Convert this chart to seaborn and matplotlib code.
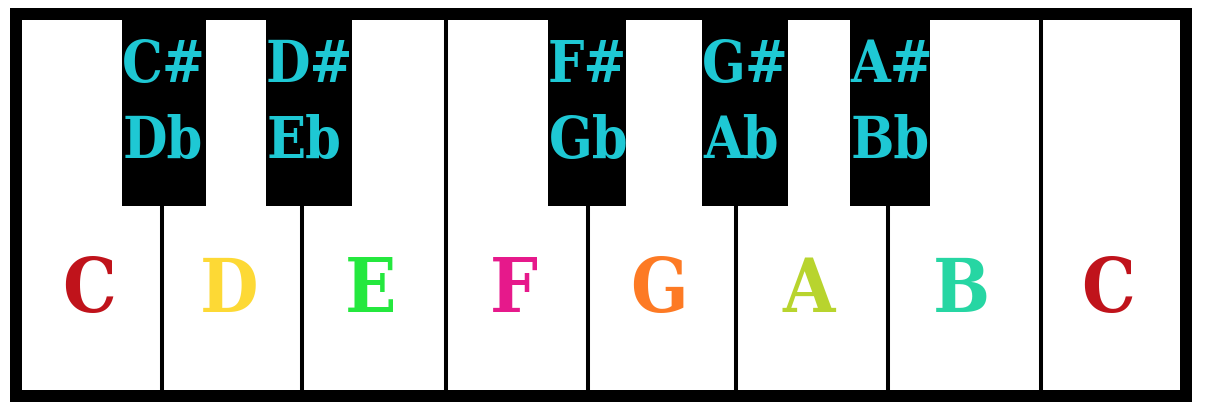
import matplotlib
matplotlib.use("Agg")
import matplotlib.pyplot as plt
import seaborn as sns

# ── Data ──────────────────────────────────────────────────
white_names  = ["C", "D", "E", "F", "G", "A", "B", "C"]
white_colors = ["#c0131b", "#fdd935", "#24e83e", "#e6198b",
                "#fd7a24", "#b8d42e", "#26d6a3", "#c0131b"]
white_edges  = [22, 162, 302, 446, 588, 736, 888, 1041, 1180]

black_top    = ["C#", "D#", "F#", "G#", "A#"]
black_bottom = ["Db", "Eb", "Gb", "Ab", "Bb"]
black_left   = [122, 266, 548, 702, 850]
black_right  = [206, 352, 626, 788, 930]

LABEL_CYAN = "#1ec8d4"
FONT = "DejaVu Serif"

# ── Styling ───────────────────────────────────────────────
sns.set_theme(style="white")
plt.rcParams["font.family"] = [FONT, "DejaVu Sans"]

W, H = 1208, 416
fig = plt.figure(figsize=(W / 100, H / 100), dpi=100)
fig.patch.set_facecolor("white")
ax = fig.add_axes([0, 0, 1, 1])
ax.set_xlim(0, W)
ax.set_ylim(H, 0)
ax.axis("off")

top, bottom = 20, 390
txt = dict(fontstretch="condensed", fontweight="bold", zorder=4)

# outer frame
ax.bar(10, 394, width=1182, bottom=8, align="edge", color="black", linewidth=0)

# white keys
lefts  = white_edges[:-1]
widths = [r - l for l, r in zip(white_edges[:-1], white_edges[1:])]
ax.bar(lefts, bottom - top, width=widths, bottom=top, align="edge",
       color="white", linewidth=0)
ax.vlines(white_edges[1:-1], top, bottom, color="black", lw=2.9)

# black keys
bw = [r - l for l, r in zip(black_left, black_right)]
ax.bar(black_left, 186, width=bw, bottom=top, align="edge",
       color="black", linewidth=0, zorder=3)

# labels
for l, w, name, c in zip(lefts, widths, white_names, white_colors):
    ax.text(l + w / 2 - 3, 312, name, ha="center", va="baseline",
            fontsize=54, color=c, **txt)

for l, t, b in zip(black_left, black_top, black_bottom):
    ax.text(l, 82, t, ha="left", va="baseline", fontsize=41,
            color=LABEL_CYAN, **txt)
    ax.text(l + 1, 158, b, ha="left", va="baseline", fontsize=41,
            color=LABEL_CYAN, **txt)

fig.savefig("out.png", dpi=100, facecolor="white")
